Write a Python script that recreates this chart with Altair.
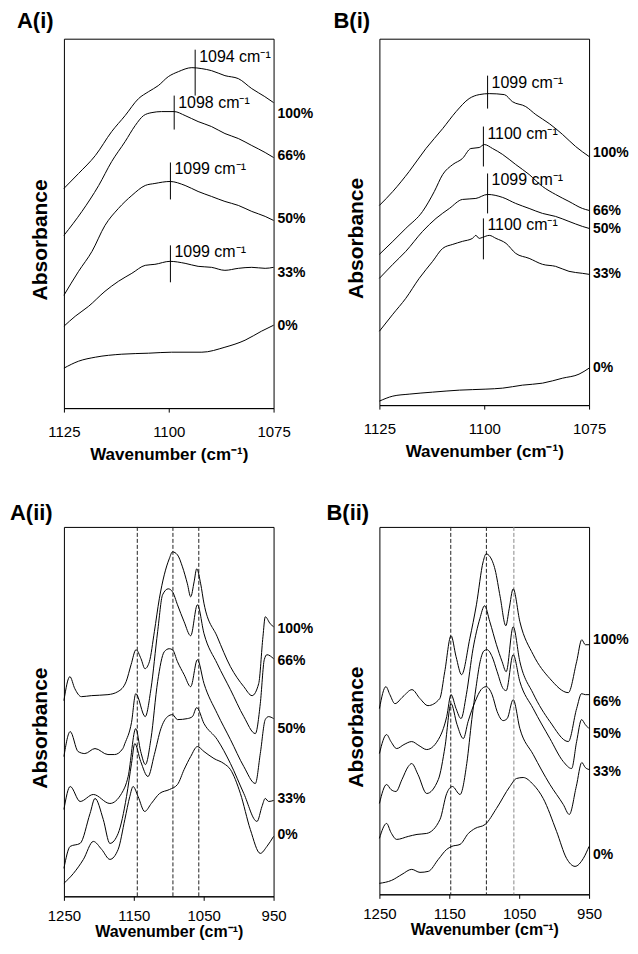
import altair as alt
import pandas as pd

FONT = "Liberation Sans"
NAMES = ["100%", "66%", "50%", "33%", "0%"]

# ---------------- Panel A(i): (wavenumber, absorbance a.u.) ----------------
A1_100 = [(1125,220),(1121.5,235),(1117.5,253),(1113.6,277),(1110.4,293),(1107.2,310),(1104.8,317),(1102.5,323),(1100.1,332),(1097.7,337),(1094.5,341),(1092.1,340),(1089.8,338),(1086.6,333),(1083.4,330),(1080.2,320),(1077.1,312),(1075,306)]
A1_66 = [(1125,173),(1120.7,197),(1116.7,223),(1113.6,247),(1110.4,267),(1108,283),(1106,293),(1104,296),(1101.7,297),(1098.7,297),(1096.1,293),(1093,287),(1089.8,282),(1086.6,275),(1083.4,270),(1080.2,263),(1077,256),(1075,251)]
A1_50 = [(1125,113),(1121.5,137),(1118.3,157),(1115.2,183),(1112,200),(1108.8,213),(1105.6,223),(1103.3,225),(1099.7,227),(1096.1,223),(1093,217),(1089.8,212),(1086.6,207),(1083.4,203),(1080.2,197),(1077,192),(1075,188)]
A1_33 = [(1125,82),(1122.3,92),(1119.1,102),(1115.2,117),(1112,127),(1108.8,135),(1105.6,143),(1103.3,144),(1099.7,147),(1096.1,145),(1093,142),(1089.8,141),(1086.6,138),(1083.4,140),(1080.2,141),(1077,140),(1075,141)]
A1_0 = [(1125,40),(1121.5,47),(1117.5,51),(1111.2,54),(1104.8,55),(1099.3,56),(1092.1,56),(1086.6,61),(1081.8,68),(1077.9,77),(1075,83)]
A1_LABELS = [295, 253, 189, 135, 82]
A1_PEAK_WN = [1093.7, 1098.7, 1099.6, 1099.6]
A1_PEAK_TOP = [359, 313, 246, 163]
A1_PEAK_BOT = [313, 279, 209, 126]
A1_PEAK_TXT = ["1094", "1098", "1099", "1099"]

# ---------------- Panel B(i) ----------------
B1_100 = [(1125,200),(1121.8,214),(1117.9,234),(1113.9,257),(1109.9,277),(1106.7,294),(1103.6,307),(1101.2,311),(1098.8,312),(1095.2,311),(1093.3,304),(1090.1,299),(1087.7,291),(1084.5,282),(1081.3,271),(1078.2,259),(1075,249)]
B1_66 = [(1125,151),(1121.8,164),(1118.7,177),(1114.7,194),(1111.9,214),(1109.9,231),(1107.5,241),(1105.2,247),(1103.2,257),(1101.2,258),(1100,261),(1098,257),(1095.6,251),(1092.5,241),(1089.3,231),(1086.1,219),(1083,211),(1079.8,204),(1076.6,197),(1075,195)]
B1_50 = [(1125,127),(1121.8,141),(1118.7,154),(1114.7,174),(1111.5,187),(1108.3,197),(1105.2,206),(1102,207),(1099.2,211),(1095.6,208),(1092.5,202),(1089.3,197),(1086.1,192),(1083,189),(1079.8,184),(1076.6,179),(1075,177)]
B1_33 = [(1125,74),(1121.8,91),(1118.7,107),(1115.5,127),(1112.3,144),(1109.9,157),(1107.5,161),(1105.2,164),(1102.8,167),(1102,170),(1101.2,167),(1100.4,168),(1098.8,170),(1097.2,167),(1094.8,162),(1092.5,152),(1089.3,147),(1086.1,141),(1083,139),(1079.8,134),(1076.6,132),(1075,131)]
B1_0 = [(1125,4),(1121.8,9),(1117.9,11),(1112.3,13),(1105.9,15),(1099.6,16),(1095.6,17),(1090.9,20),(1086.1,22),(1081.3,27),(1077.4,31),(1075,37)]
B1_LABELS = [253, 194, 176, 131, 37]
B1_PEAK_WN = [1099.2, 1100.2, 1099.2, 1100.2]
B1_PEAK_TOP = [330, 279, 232, 187]
B1_PEAK_BOT = [297, 239, 192, 146]
B1_PEAK_TXT = ["1099", "1100", "1099", "1100"]

# ---------------- Panel A(ii) ----------------
A2_100 = [(1250,199),(1241.5,223),(1234.4,211),(1225,203),(1210.8,204),(1187,205),(1172.8,208),(1161,218),(1153.9,235),(1146.8,250),(1139.7,241),(1134,231),(1127.7,238),(1120.6,268),(1113.5,301),(1106.4,325),(1099.3,341),(1094.6,348),(1087.5,345),(1080.4,333),(1073.3,316),(1068.6,303),(1063.7,318),(1060,331),(1054.3,316),(1049.5,296),(1030.6,263),(1011.7,233),(992.6,213),(980.8,204),(971.3,216),(965.2,263),(961.9,283),(954.8,276),(950,273)]
A2_66 = [(1250,143),(1241,168),(1229.7,148),(1220.1,146),(1205.5,151),(1187,145),(1177.5,145),(1165.7,151),(1162.8,156),(1153.3,177),(1147.2,206),(1133.7,183),(1125.4,211),(1115.9,268),(1108.8,305),(1100.7,311),(1094.6,308),(1087.5,295),(1078,278),(1068.6,264),(1059,295),(1049.5,266),(1030.6,236),(1011.7,210),(992.6,183),(976.1,166),(969,196),(963.3,240),(959.5,245),(950,241)]
A2_50 = [(1250,90),(1241,113),(1226.8,98),(1207.9,105),(1184.2,96),(1167.5,106),(1158.1,123),(1147.2,171),(1140.1,148),(1133.4,135),(1125.4,161),(1115.9,218),(1106.4,248),(1099.3,251),(1094.6,250),(1087.5,238),(1078,225),(1068.6,213),(1059,240),(1049.5,216),(1030.6,186),(1011.7,160),(992.6,133),(976.1,116),(969,146),(961.9,180),(957.1,183),(950,181)]
A2_33 = [(1250,31),(1241,53),(1226.8,56),(1212.6,86),(1205.5,101),(1193.7,80),(1184.2,56),(1172.4,66),(1160.4,103),(1153.3,136),(1148.6,156),(1140.1,138),(1129.7,123),(1120.6,145),(1111.2,171),(1101.7,183),(1094.6,185),(1087.5,180),(1073.3,181),(1066.1,183),(1060,192),(1049.5,176),(1030.6,160),(1011.7,136),(992.6,106),(973.7,78),(966.6,93),(961.9,101),(957.1,98),(950,99)]
A2_0 = [(1250,16),(1236.3,26),(1222.1,40),(1207.9,58),(1196,50),(1184.2,40),(1172.4,50),(1162.8,80),(1155.7,103),(1151,113),(1143.9,103),(1134.4,88),(1124.9,96),(1113.1,106),(1098.9,110),(1087.5,115),(1078,130),(1068.6,143),(1059,153),(1049.5,148),(1035.3,141),(1021.1,136),(1011.7,130),(997.5,106),(983.3,70),(969,46),(959.5,53),(950,63)]
A2_LABELS = [271, 239, 171, 100, 64]
A2_DASH_DARK = [1145, 1094, 1057]

# ---------------- Panel B(ii) ----------------
B2_100 = [(1250,186),(1240.7,208),(1235,200),(1227.8,191),(1216.3,198),(1203.4,205),(1191.9,196),(1180.5,189),(1163.7,196),(1156.5,223),(1147.5,259),(1140.3,238),(1132.4,220),(1120.7,256),(1111.2,290),(1101.6,333),(1097.3,341),(1091.6,338),(1084.4,325),(1077.2,298),(1069.1,269),(1064.3,286),(1058.6,306),(1049,273),(1029.9,240),(1006,216),(979.7,202),(967.8,233),(960.4,255),(955.4,250),(950,250)]
B2_66 = [(1250,141),(1239.7,160),(1233.5,153),(1225.3,146),(1214.9,150),(1203.8,153),(1193.4,149),(1182.3,145),(1163.3,158),(1153.7,178),(1147.5,200),(1140.3,186),(1133.2,176),(1125.6,200),(1116,246),(1106.3,276),(1099.5,289),(1092,273),(1082.5,250),(1074.4,233),(1068.6,223),(1058.6,268),(1049,233),(1029.9,201),(1006,173),(979.7,153),(967.8,186),(960.7,201),(955.4,200),(950,200)]
B2_50 = [(1250,56),(1239.7,71),(1233.5,62),(1225.3,55),(1208.7,58),(1196.2,60),(1182.3,61),(1163.3,75),(1153.7,101),(1145.6,108),(1134.6,100),(1125,131),(1117.8,175),(1111.6,208),(1105.9,233),(1100.2,244),(1095.9,245),(1088.7,238),(1081.5,223),(1072.9,206),(1068.6,204),(1058.6,240),(1049,213),(1029.9,186),(1006,156),(986.9,133),(975,126),(967.8,153),(960.7,175),(955.4,170),(950,166)]
B2_33 = [(1250,91),(1239.7,110),(1233.5,105),(1226.3,103),(1217.7,115),(1208.7,128),(1203.8,131),(1194.8,120),(1182.3,101),(1165.7,115),(1156.1,148),(1147.5,191),(1138.9,170),(1129.9,156),(1123.1,173),(1113.1,193),(1104.5,205),(1097.3,208),(1088.7,200),(1081.5,183),(1072.9,174),(1067.2,176),(1058.6,195),(1049,166),(1029.9,140),(1006,110),(986.9,90),(978.3,80),(968.3,108),(960.4,132),(955.4,127),(950,125)]
B2_0 = [(1250,11),(1232.5,14),(1217.7,20),(1203.8,25),(1191.9,22),(1180,23),(1165.7,35),(1153.7,45),(1146.5,48),(1134.6,50),(1122.7,61),(1113.1,66),(1098.7,70),(1082.5,86),(1063.3,108),(1053.9,116),(1044.3,117),(1029.9,110),(1015.6,96),(996.5,63),(982.2,36),(970.1,28),(958.2,36),(950,48)]
B2_LABELS = [255, 193, 161, 123, 39]
B2_DASH_DARK = [1147.9, 1096.9]
B2_DASH_GRAY = [1057.6]

XTICKS_I = [1125, 1100, 1075]
XTICKS_II = [1250, 1150, 1050, 950]


def panel(title, title_dx, title_offset, curves, label_vals, xlim, xticks, height,
          ymin=0, peaks=None, dash_dark=None, dash_gray=None,
          label_pad=12, title_pad=7, xtitle_size=17):
    lo, hi = xlim
    rows = [{"series": n, "wn": w, "absb": a}
            for n, pts in zip(NAMES, curves) for (w, a) in pts]
    df = pd.DataFrame(rows)
    xs = alt.Scale(domain=[lo, hi], reverse=True, nice=False, zero=False)
    ys = alt.Scale(domain=[ymin, ymin + height], nice=False, zero=False)
    xax = alt.Axis(values=xticks, title="Wavenumber (cm⁻¹)", grid=False,
                   labelFontSize=15, labelPadding=label_pad, tickSize=4,
                   labelFlush=False, titleFontSize=xtitle_size,
                   titleFontWeight="bold", titlePadding=title_pad, format="d")
    yax = alt.Axis(labels=False, ticks=False, domain=False, grid=False,
                   title="Absorbance", titleFontSize=21, titleFontWeight="bold",
                   titlePadding=13, titleY=height / 2 + 16)
    X = alt.X("wn:Q", scale=xs, axis=xax)
    Y = alt.Y("absb:Q", scale=ys, axis=yax)
    layers = []
    if dash_dark:
        layers.append(alt.Chart(pd.DataFrame({"wn": dash_dark})).mark_rule(
            color="#222222", strokeWidth=1, strokeDash=[4, 2]).encode(x=X))
    if dash_gray:
        layers.append(alt.Chart(pd.DataFrame({"wn": dash_gray})).mark_rule(
            color="#8a8a8a", strokeWidth=1, strokeDash=[4, 2]).encode(x=X))
    layers.append(alt.Chart(df).mark_line(
        color="black", strokeWidth=1, interpolate="monotone").encode(
        x=X, y=Y, detail="series:N"))
    lab = pd.DataFrame({"series": NAMES, "wn": [lo] * 5, "absb": label_vals})
    layers.append(alt.Chart(lab).mark_text(
        align="left", baseline="middle", dx=4, font=FONT, fontSize=14,
        fontWeight="bold", color="black").encode(x=X, y=Y, text="series:N"))
    if peaks:
        wn, top, bot, txt = peaks
        pk = pd.DataFrame({"wn": wn, "absb": top, "absb2": bot,
                           "txt": [t + " cm⁻¹" for t in txt]})
        layers.append(alt.Chart(pk).mark_rule(color="black", strokeWidth=1).encode(
            x=X, y=Y, y2=alt.Y2("absb2:Q")))
        layers.append(alt.Chart(pk).mark_text(
            align="left", baseline="alphabetic", dx=4, dy=12, font=FONT,
            fontSize=16, color="black").encode(x=X, y=Y, text="txt:N"))
    return alt.layer(*layers).properties(
        width=210, height=height,
        title=alt.TitleParams(text=title, anchor="start", frame="group",
                              dx=-title_dx, offset=title_offset,
                              baseline="alphabetic", fontSize=22,
                              fontWeight="bold", font=FONT, color="black"))


a1 = panel("A(i)", 47, -11, [A1_100, A1_66, A1_50, A1_33, A1_0], A1_LABELS,
           (1075, 1125), XTICKS_I, 370,
           peaks=(A1_PEAK_WN, A1_PEAK_TOP, A1_PEAK_BOT, A1_PEAK_TXT))
b1 = panel("B(i)", 46, -11, [B1_100, B1_66, B1_50, B1_33, B1_0], B1_LABELS,
           (1075, 1125), XTICKS_I, 367,
           peaks=(B1_PEAK_WN, B1_PEAK_TOP, B1_PEAK_BOT, B1_PEAK_TXT))
a2 = panel("A(ii)", 54, -16, [A2_100, A2_66, A2_50, A2_33, A2_0], A2_LABELS,
           (950, 1250), XTICKS_II, 370, ymin=3, dash_dark=A2_DASH_DARK,
           label_pad=8, title_pad=0, xtitle_size=16)
b2 = panel("B(ii)", 53, -16, [B2_100, B2_66, B2_50, B2_33, B2_0], B2_LABELS,
           (950, 1250), XTICKS_II, 368, ymin=0, dash_dark=B2_DASH_DARK,
           dash_gray=B2_DASH_GRAY, label_pad=8, title_pad=0, xtitle_size=16)

chart = alt.concat(
    a1, b1, a2, b2, columns=2,
    spacing=alt.RowColnumber(row=119, column=106), bounds="flush"
).properties(
    padding={"left": 1, "top": 0, "right": 0, "bottom": 0}
).configure_view(
    stroke="black", strokeWidth=1
).configure_axis(
    labelFont=FONT, titleFont=FONT, labelColor="black", titleColor="black",
    domainColor="black", tickColor="black"
)

chart.save("out.html", embed_options={"renderer": "svg", "actions": False})
